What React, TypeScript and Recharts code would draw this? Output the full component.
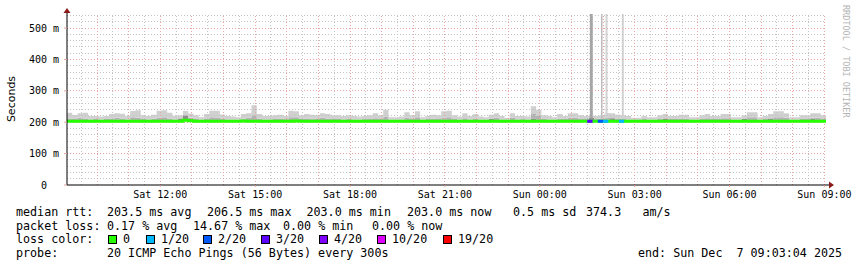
import { ComposedChart, Area, Line, XAxis, YAxis, ReferenceLine, ReferenceDot } from 'recharts';

// hours since Sat 00:00, 10 minute bins over the last 24 h
const START_HOUR = 9.05;
const END_HOUR = 33.05;
const BIN_HOURS = 1 / 6;
const Y_MAX = 545;

// ms
const smokeTop = [
  230, 223, 229, 230, 220, 220, 218, 220, 226, 229,
  227, 220, 236, 238, 222, 220, 224, 237, 238, 230,
  220, 222, 236, 228, 222, 216, 226, 237, 237, 225,
  220, 218, 216, 226, 229, 254, 226, 220, 220, 222,
  224, 220, 237, 235, 222, 226, 224, 222, 229, 226,
  222, 222, 220, 222, 220, 218, 220, 222, 229, 222,
  240, 216, 216, 218, 232, 222, 235, 216, 220, 224,
  222, 235, 237, 222, 218, 229, 220, 226, 218, 216,
  224, 229, 220, 214, 229, 220, 220, 218, 251, 240,
  222, 220, 216, 226, 220, 229, 229, 222, 220, 222,
  220, 222, 229, 229, 224, 222, 220, 214, 214, 220,
  216, 216, 222, 226, 220, 220, 224, 224, 216, 216,
  222, 226, 220, 220, 226, 226, 216, 216, 222, 232,
  232, 216, 220, 226, 235, 235, 229, 216, 216, 222,
  222, 229, 229, 222,
];
const smokeMid = [
  212, 210, 214, 212, 209, 210, 208, 210, 212, 214,
  212, 209, 216, 214, 210, 209, 211, 215, 216, 212,
  209, 211, 222, 214, 210, 208, 212, 216, 215, 212,
  209, 208, 208, 212, 214, 222, 212, 209, 209, 210,
  212, 210, 216, 216, 210, 212, 211, 210, 214, 212,
  210, 210, 209, 210, 209, 208, 210, 210, 213, 210,
  218, 208, 208, 209, 214, 210, 216, 208, 210, 212,
  210, 215, 216, 210, 208, 213, 209, 212, 208, 208,
  212, 214, 209, 207, 214, 209, 210, 208, 226, 220,
  210, 209, 208, 212, 210, 214, 214, 210, 210, 214,
  210, 212, 215, 216, 212, 210, 209, 207, 207, 210,
  208, 208, 210, 213, 210, 210, 212, 212, 208, 208,
  210, 213, 210, 210, 213, 213, 208, 208, 210, 216,
  216, 208, 210, 213, 216, 216, 214, 208, 208, 210,
  210, 214, 214, 210,
];
const smokeDark = [
  205, 205, 205, 205, 205, 205, 205, 205, 205, 209,
  205, 205, 205, 205, 205, 205, 205, 205, 205, 205,
  205, 212, 222, 210, 205, 205, 205, 205, 205, 205,
  205, 205, 205, 208, 205, 205, 205, 205, 205, 205,
  205, 209, 205, 205, 205, 205, 208, 205, 205, 205,
  205, 205, 205, 205, 205, 205, 209, 205, 205, 205,
  205, 205, 205, 208, 205, 205, 205, 205, 205, 205,
  205, 209, 205, 205, 205, 205, 205, 205, 205, 205,
  210, 205, 205, 205, 205, 205, 208, 205, 212, 205,
  205, 205, 205, 205, 205, 205, 205, 205, 205, 214,
  205, 205, 205, 210, 205, 205, 205, 205, 205, 205,
  205, 205, 205, 210, 205, 205, 205, 205, 208, 205,
  205, 205, 205, 205, 205, 205, 205, 205, 211, 205,
  205, 205, 205, 210, 205, 205, 205, 205, 205, 205,
  205, 211, 205, 205,
];
const median = [
  203, 203, 203, 203, 203, 203, 203, 203, 203, 203,
  203, 203, 203, 203, 203, 203, 203, 203, 203, 203,
  203, 203, 206, 205, 203, 203, 203, 203, 203, 203,
  203, 203, 203, 204, 203, 203, 203, 203, 203, 203,
  203, 203, 203, 204, 203, 203, 203, 203, 203, 203,
  203, 203, 203, 203, 203, 203, 203, 203, 203, 203,
  203, 203, 203, 203, 203, 203, 203, 203, 203, 203,
  203, 203, 203, 203, 203, 203, 203, 203, 203, 203,
  203, 203, 203, 203, 203, 203, 203, 203, 203, 203,
  203, 203, 203, 203, 203, 203, 203, 203, 203, 203,
  203, 203, 203, 203, 203, 203, 203, 203, 203, 203,
  203, 203, 203, 203, 203, 203, 203, 203, 203, 203,
  203, 203, 203, 203, 203, 203, 203, 203, 203, 203,
  203, 203, 203, 203, 203, 203, 203, 203, 203, 203,
  203, 203, 203, 203,
];

// single-step outliers that reach past the top of the graph
const spikes = [
  { t: 25.63, low: 212, high: 545, shade: '#a6a6a6', width: 3 },
  { t: 25.96, low: 212, high: 545, shade: '#bababa', width: 1.5 },
  { t: 26.11, low: 212, high: 545, shade: '#d2d2d2', width: 2 },
  { t: 26.625, low: 212, high: 545, shade: '#d2d2d2', width: 2 },
];

// median colored by packet loss
const lossSegments = [
  { from: 25.5, to: 25.6667, rtt: 203, loss: '3/20' },
  { from: 25.8333, to: 26.0, rtt: 203, loss: '2/20' },
  { from: 26.0, to: 26.1667, rtt: 203, loss: '1/20' },
  { from: 26.5, to: 26.6667, rtt: 203, loss: '1/20' },
];

const lossLegend = [
  { label: '0', color: '#26ff00' },
  { label: '1/20', color: '#00b8ff' },
  { label: '2/20', color: '#0059ff' },
  { label: '3/20', color: '#5e00ff' },
  { label: '4/20', color: '#7e00ff' },
  { label: '10/20', color: '#dd00ff' },
  { label: '19/20', color: '#ff0000' },
];
const lossColor: Record<string, string> = Object.fromEntries(lossLegend.map((l) => [l.label, l.color]));

const xTicks = [12, 15, 18, 21, 24, 27, 30, 33];
const yTicks = [0, 100, 200, 300, 400, 500];
const majorHours = [10, 11, 12, 13, 14, 15, 16, 17, 18, 19, 20, 21, 22, 23, 24, 25, 26, 27, 28, 29, 30, 31, 32, 33];
const minorHours = majorHours.map((h) => h - 0.5);
const majorMs = [100, 200, 300, 400, 500];
const minorMs = Array.from({ length: 27 }, (_, i) => (i + 1) * 20).filter((v) => v % 100 !== 0);

const rttLine = ['median rtt:', '203.5 ms avg', '206.5 ms max', '203.0 ms min', '203.0 ms now', '0.5 ms sd', '374.3', 'am/s'];
const lossLine = ['packet loss:', '0.17 % avg', '14.67 % max', '0.00 % min', '0.00 % now'];
const probeLine = ['probe:', '20 ICMP Echo Pings (56 Bytes) every 300s'];
const endText = 'end: Sun Dec  7 09:03:04 2025';

const rttX = [16, 107, 207, 306.5, 407, 513, 586, 642.5];
const lossX = [16, 107, 193, 283, 372];
const probeX = [16, 107];
const boxX = [108, 146, 203, 261, 319, 377, 443];
const rowTop = [205, 218.7, 232.4, 246];

const MONO = "'DejaVu Sans Mono', monospace";

const rows = Array.from({ length: smokeTop.length + 1 }, (_, i) => {
  const k = Math.min(i, smokeTop.length - 1);
  const base = median[k];
  const dark = Math.max(smokeDark[k], base);
  const mid = Math.max(smokeMid[k], dark);
  const top = Math.max(smokeTop[k], mid);
  return {
    t: START_HOUR + i * BIN_HOURS,
    base,
    dark: dark - base,
    mid: mid - dark,
    light: top - mid,
    median: base,
  };
});

function fmtHour(h: number) {
  const day = h < 24 ? 'Sat' : 'Sun';
  const hh = String(h % 24).padStart(2, '0');
  return `${day} ${hh}:00`;
}

function ArrowRight(p: any) {
  const { cx, cy } = p;
  return (
    <g>
      <line x1={cx} y1={cy} x2={cx + 3} y2={cy} stroke="#000" />
      <path d={`M${cx + 3},${cy - 3.5} L${cx + 8},${cy} L${cx + 3},${cy + 3.5} Z`} fill="#8b1a1a" />
    </g>
  );
}

function ArrowUp(p: any) {
  const { cx, cy } = p;
  return (
    <g>
      <line x1={cx} y1={cy} x2={cx} y2={cy - 2} stroke="#000" />
      <path d={`M${cx - 3.5},${cy - 1} L${cx},${cy - 6} L${cx + 3.5},${cy - 1} Z`} fill="#8b1a1a" />
    </g>
  );
}

function Txt({ x, y, children }: { x: number; y: number; children: any }) {
  return (
    <span
      style={{
        position: 'absolute',
        left: x,
        top: y,
        fontFamily: MONO,
        fontSize: 11.7,
        lineHeight: '14px',
        whiteSpace: 'pre',
        color: '#000',
      }}
    >
      {children}
    </span>
  );
}

export default function App() {
  return (
    <div style={{ position: 'absolute', left: 0, top: 0, width: 857, height: 267, background: '#fff', overflow: 'hidden' }}>
      <ComposedChart width={857} height={267} data={rows} margin={{ top: 14, right: 31, bottom: 62, left: 7 }}>
        <XAxis
          dataKey="t"
          type="number"
          domain={[START_HOUR, END_HOUR]}
          allowDataOverflow
          ticks={xTicks}
          interval={0}
          tickFormatter={fmtHour}
          height={20}
          tickSize={2}
          tickMargin={4}
          axisLine={{ stroke: '#000' }}
          tickLine={{ stroke: '#e0a0a0' }}
          tick={{ fill: '#000', fontSize: 10, fontFamily: MONO }}
        />
        <YAxis
          type="number"
          domain={[0, Y_MAX]}
          allowDataOverflow
          ticks={yTicks}
          interval={0}
          width={60}
          tickSize={3}
          tickMargin={5}
          tickFormatter={(v: number) => (v === 0 ? '0\u00a0\u00a0' : `${v} m`)}
          axisLine={{ stroke: '#000' }}
          tickLine={{ stroke: '#e0a0a0' }}
          tick={{ fill: '#000', fontSize: 10, fontFamily: MONO }}
        />

        <Area dataKey="base" stackId="s" type="stepAfter" stroke="none" fill="none" isAnimationActive={false} />
        <Area dataKey="dark" stackId="s" type="stepAfter" stroke="none" fill="#8c8c8c" fillOpacity={1} isAnimationActive={false} />
        <Area dataKey="mid" stackId="s" type="stepAfter" stroke="none" fill="#b2b2b2" fillOpacity={1} isAnimationActive={false} />
        <Area dataKey="light" stackId="s" type="stepAfter" stroke="none" fill="#d0d0d0" fillOpacity={1} isAnimationActive={false} />

        {spikes.map((s, i) => (
          <Line
            key={`spike${i}`}
            data={[{ t: s.t, v: s.low }, { t: s.t, v: s.high }]}
            dataKey="v"
            type="linear"
            stroke={s.shade}
            strokeWidth={s.width}
            dot={false}
            activeDot={false}
            isAnimationActive={false}
          />
        ))}

        {minorHours.map((h) => (
          <ReferenceLine key={`mx${h}`} x={h} stroke="#c4c4c4" strokeDasharray="1 2" shapeRendering="crispEdges" />
        ))}
        {minorMs.map((v) => (
          <ReferenceLine key={`my${v}`} y={v} stroke="#c4c4c4" strokeDasharray="1 2" shapeRendering="crispEdges" />
        ))}
        {majorHours.map((h) => (
          <ReferenceLine key={`Mx${h}`} x={h} stroke="#e8a4a4" strokeDasharray="1 2" shapeRendering="crispEdges" />
        ))}
        {majorMs.map((v) => (
          <ReferenceLine key={`My${v}`} y={v} stroke="#e8a4a4" strokeDasharray="1 2" shapeRendering="crispEdges" />
        ))}

        <Line
          dataKey="median"
          type="stepAfter"
          stroke="#26ff00"
          strokeWidth={3}
          dot={false}
          activeDot={false}
          isAnimationActive={false}
        />
        {lossSegments.map((s, i) => (
          <Line
            key={`loss${i}`}
            data={[{ t: s.from, v: s.rtt }, { t: s.to, v: s.rtt }]}
            dataKey="v"
            type="linear"
            stroke={lossColor[s.loss]}
            strokeWidth={3}
            dot={false}
            activeDot={false}
            isAnimationActive={false}
          />
        ))}

        <ReferenceDot x={END_HOUR} y={0} shape={ArrowRight} ifOverflow="visible" />
        <ReferenceDot x={START_HOUR} y={Y_MAX} shape={ArrowUp} ifOverflow="visible" />
      </ComposedChart>

      <div
        style={{
          position: 'absolute',
          left: 11,
          top: 99,
          transform: 'translate(-50%, -50%) rotate(-90deg)',
          fontFamily: "'DejaVu Sans', sans-serif",
          fontSize: 11,
          whiteSpace: 'nowrap',
          color: '#000',
        }}
      >
        Seconds
      </div>
      <div
        style={{
          position: 'absolute',
          left: 841.5,
          top: 5,
          writingMode: 'vertical-rl',
          fontFamily: MONO,
          fontSize: 8.5,
          lineHeight: 1,
          color: '#b4b4b4',
          whiteSpace: 'pre',
        }}
      >
        RRDTOOL / TOBI OETIKER
      </div>

      {rttLine.map((s, i) => (
        <Txt key={`r${i}`} x={rttX[i]} y={rowTop[0]}>{s}</Txt>
      ))}
      {lossLine.map((s, i) => (
        <Txt key={`l${i}`} x={lossX[i]} y={rowTop[1]}>{s}</Txt>
      ))}
      <Txt x={16} y={rowTop[2]}>loss color:</Txt>
      {lossLegend.map((l, i) => (
        <span key={`b${i}`}>
          <span
            style={{
              position: 'absolute',
              left: boxX[i],
              top: rowTop[2] + 2.3,
              width: 9,
              height: 9,
              boxSizing: 'border-box',
              border: '1px solid #000',
              background: l.color,
            }}
          />
          <Txt x={boxX[i] + 15} y={rowTop[2]}>{l.label}</Txt>
        </span>
      ))}
      {probeLine.map((s, i) => (
        <Txt key={`p${i}`} x={probeX[i]} y={rowTop[3]}>{s}</Txt>
      ))}
      <Txt x={638} y={rowTop[3]}>{endText}</Txt>
    </div>
  );
}
